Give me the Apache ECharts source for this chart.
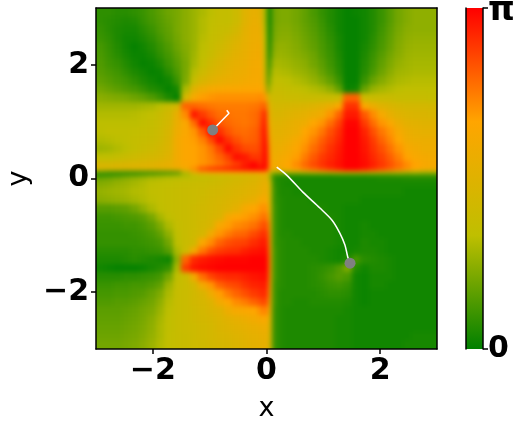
<!DOCTYPE html>
<html>
<head>
<meta charset="utf-8">
<style>
html,body{margin:0;padding:0;background:#fff}
#page{position:relative;width:520px;height:423px;overflow:hidden}
#clip{position:absolute;left:96px;top:8px;width:341px;height:341px;overflow:hidden}
#map{position:absolute;left:-96px;top:-8px;width:520px;height:423px;filter:blur(2.5px)}
#main{position:absolute;left:0;top:0;width:520px;height:423px}
</style>
<script src="https://cdn.jsdelivr.net/npm/echarts@6/dist/echarts.min.js"></script>
</head>
<body>
<div id="page">
<div id="clip"><div id="map"></div></div>
<div id="main"></div>
</div>
<script>
// cell edges, finer around the axes where the map has thin bands
const xEdges = [-3,-2.85,-2.7,-2.55,-2.4,-2.25,-2.1,-1.95,-1.8,-1.65,-1.5,-1.35,-1.2,-1.05,-0.9,-0.75,-0.6,-0.45,-0.3,-0.15,-0.07,0,0.05,0.1,0.2,0.3,0.45,0.6,0.75,0.9,1.05,1.2,1.35,1.5,1.65,1.8,1.95,2.1,2.25,2.4,2.55,2.7,2.85,3];
const yEdges = [3,2.85,2.7,2.55,2.4,2.25,2.1,1.95,1.8,1.65,1.5,1.35,1.2,1.05,0.9,0.75,0.6,0.45,0.3,0.2,0.13,0.08,0.03,-0.05,-0.15,-0.3,-0.45,-0.6,-0.75,-0.9,-1.05,-1.2,-1.35,-1.5,-1.65,-1.8,-1.95,-2.1,-2.25,-2.4,-2.55,-2.7,-2.85,-3];

// values in percent of pi, read by eye, one line per row from the top
const westCells = [
[8,8,7,7,8,10,13,16,19,21,24,27,30,33,36,36,40,50,54,52,30],
[8,7,6,5,6,9,12,15,18,21,24,27,31,34,36,36,40,50,55,54,30],
[9,7,5,4,4,7,10,14,17,21,24,27,31,35,37,38,43,52,56,56,32],
[10,8,5,3,3,5,8,12,16,20,24,27,32,36,38,42,47,53,57,58,34],
[12,9,6,3,1,3,6,10,14,19,23,27,33,37,41,45,50,54,58,60,36],
[13,10,7,4,2,2,4,8,12,17,22,28,34,38,44,48,52,55,59,61,38],
[14,11,9,6,3,1,2,5,10,15,21,29,36,42,47,51,54,56,60,62,40],
[15,13,11,8,5,3,1,2,7,13,21,32,40,46,50,53,56,58,61,63,42],
[17,15,13,11,8,5,3,1,3,10,22,37,46,51,54,56,58,60,62,63,45],
[20,18,16,14,12,9,6,4,1,4,30,50,58,62,63,64,64,65,65,66,55],
[24,23,22,21,19,17,14,10,5,1,45,62,68,70,71,71,71,71,71,72,70],
[28,28,28,28,28,29,30,33,38,45,80,80,78,76,75,75,75,75,76,78,82],
[31,31,31,31,32,33,35,38,42,55,72,95,88,82,78,77,76,76,78,82,95],
[33,33,33,33,33,34,36,39,44,56,64,78,97,90,82,79,77,76,78,84,98],
[33,34,34,34,35,36,37,40,46,58,64,70,82,99,90,83,79,78,80,86,99],
[31,32,33,34,36,37,38,41,47,60,65,68,74,85,98,90,84,80,81,86,100],
[28,29,31,33,36,38,40,43,48,60,65,67,70,76,86,98,90,85,84,87,100],
[34,34,36,38,40,42,44,46,50,60,65,67,70,74,80,87,97,95,89,89,100],
[45,45,46,47,48,49,50,52,54,60,64,67,70,73,77,82,87,94,99,92,100],
[48,48,49,49,50,50,51,52,54,58,62,72,85,90,92,94,96,98,100,100,100],
[12,9,8,7,7,8,8,9,10,12,30,52,60,62,62,62,62,60,60,62,65],
[8,10,12,15,17,19,22,24,26,28,30,33,36,38,40,42,44,46,48,50,52],
[20,21,23,25,27,29,31,32,33,34,35,36,37,38,40,41,43,45,47,50,53],
[23,24,26,27,29,31,33,34,35,36,37,38,39,40,41,43,45,47,49,52,55],
[26,27,28,29,31,32,34,35,36,37,38,39,40,42,43,45,47,49,51,54,58],
[24,25,26,27,29,31,33,35,36,37,38,39,41,43,45,47,49,52,55,62,64],
[15,15,16,17,20,25,30,34,36,37,38,40,42,44,46,49,53,62,66,70,72],
[11,11,12,13,14,16,21,29,34,37,38,40,42,45,48,62,66,68,71,75,78],
[10,10,10,11,11,13,16,22,30,36,38,40,43,47,63,68,72,74,77,82,85],
[9,9,9,9,10,11,13,17,25,34,38,41,45,60,70,75,79,80,85,89,91],
[9,9,9,9,9,10,11,13,20,33,38,42,64,72,80,84,86,87,91,94,95],
[7,7,7,7,8,8,9,10,15,30,40,60,76,84,88,90,91,94,96,97,98],
[5,5,5,6,7,6,5,4,3,25,80,92,95,97,98,99,99,99,100,100,100],
[3,2,1,1,1,2,4,6,9,30,88,96,98,99,100,100,100,100,100,100,100],
[7,7,7,8,8,9,10,12,20,34,40,60,78,86,90,92,92,94,96,97,98],
[10,10,11,11,12,12,14,17,27,36,39,44,60,70,80,84,86,90,93,94,95],
[12,12,13,13,14,15,18,22,30,37,39,42,47,58,68,75,80,84,88,91,92],
[14,14,15,15,16,18,20,25,32,37,39,42,45,49,60,66,72,75,80,84,86],
[16,16,16,17,18,20,22,27,33,37,39,41,44,47,50,58,62,64,66,72,74],
[17,17,17,18,19,21,24,29,34,37,39,41,43,45,48,51,54,57,60,63,64],
[18,18,18,19,20,22,25,30,34,37,39,40,42,44,47,49,51,53,55,57,58],
[19,19,19,20,21,23,26,30,35,37,38,40,42,44,46,47,49,51,53,54,55],
[20,20,20,21,22,24,27,31,35,37,38,40,41,43,45,46,48,50,52,53,54]
];
const eastCells = [
[3,4,20,22,22,20,17,13,9,6,3,1,2,3,6,10,15,20,23,25,25,25],
[3,4,20,22,22,20,17,14,10,6,3,1,1,3,6,10,15,20,23,25,25,25],
[3,5,21,23,23,21,18,15,11,7,3,1,1,3,6,11,16,21,24,25,25,25],
[3,6,22,24,24,22,19,16,12,8,4,1,1,3,7,12,17,22,25,26,26,26],
[3,8,24,26,25,23,20,17,13,9,4,1,1,4,8,13,18,23,26,27,27,27],
[3,11,26,27,26,24,22,19,14,10,5,1,1,5,10,15,20,24,27,28,28,28],
[4,16,29,29,28,26,24,20,16,11,6,1,1,6,11,17,22,26,28,29,29,29],
[5,22,32,31,30,28,26,23,18,13,7,1,1,7,13,19,24,28,29,30,30,30],
[7,28,34,34,33,31,29,26,22,17,10,1,1,10,18,23,27,30,31,32,32,32],
[15,34,37,37,36,35,33,31,29,25,17,2,3,18,26,29,31,33,34,34,34,34],
[40,42,40,40,39,39,38,38,38,38,40,80,80,40,38,38,38,37,37,37,37,36],
[55,48,44,44,45,46,47,49,52,56,64,90,90,64,56,50,47,45,44,44,44,43],
[60,50,47,47,49,51,53,56,60,70,80,95,95,82,72,62,54,50,48,47,47,46],
[66,52,50,50,52,55,58,66,70,78,87,99,99,88,78,70,64,56,52,51,50,50],
[72,54,52,52,54,57,66,70,76,84,91,100,100,93,84,76,70,62,56,54,53,53],
[78,56,54,54,57,62,68,74,81,87,93,100,100,95,88,80,73,66,59,57,56,56],
[85,58,56,57,60,65,71,78,84,90,95,100,100,96,90,84,77,70,63,60,58,58],
[88,60,58,60,63,68,75,82,88,92,96,100,100,97,92,87,81,74,67,63,61,60],
[90,62,60,62,66,72,79,85,90,94,97,100,100,98,94,89,84,78,72,67,63,62],
[85,60,58,60,64,69,75,80,85,90,95,100,100,96,91,86,81,76,71,66,62,60],
[50,40,28,28,30,30,32,34,36,38,40,40,40,38,36,34,32,32,30,30,28,28],
[48,25,8,6,5,5,5,5,5,5,6,6,6,6,7,7,8,9,9,10,10,10],
[52,30,7,5,5,4,4,4,4,4,4,4,4,4,4,5,5,5,6,6,6,6],
[56,40,8,5,4,4,4,4,4,4,4,4,4,4,4,4,4,4,4,4,4,4],
[58,42,9,5,5,4,4,4,4,4,4,4,4,4,4,4,4,4,3,3,3,3],
[60,44,9,6,5,5,5,4,4,4,4,4,4,3,3,3,3,3,3,3,3,3],
[66,46,10,6,5,5,5,5,5,4,4,3,3,3,3,3,3,3,3,3,3,3],
[72,48,10,6,5,5,5,5,5,5,4,3,3,3,3,3,3,3,3,3,3,3],
[82,50,10,6,5,5,5,5,5,5,4,3,3,4,3,3,3,3,3,3,3,3],
[88,52,10,6,6,5,5,5,5,5,4,3,3,4,4,3,3,3,3,3,3,3],
[92,53,10,7,6,6,5,5,5,5,4,3,3,5,4,4,3,3,3,3,3,3],
[95,55,11,7,6,6,6,5,5,4,3,3,4,5,5,4,3,3,3,3,3,3],
[98,56,11,7,6,6,6,6,5,4,3,6,12,7,6,5,4,3,3,3,3,3],
[98,56,11,7,6,6,6,7,8,10,14,22,6,3,5,5,4,3,3,3,3,3],
[95,55,11,7,6,6,6,7,9,12,15,13,3,2,4,4,4,3,3,3,3,3],
[90,53,10,7,6,6,6,7,8,10,11,9,3,2,4,4,3,3,3,3,3,3],
[86,52,10,6,6,6,6,6,7,8,8,7,3,2,3,3,3,3,3,3,3,3],
[80,50,10,6,6,5,5,6,6,6,6,5,3,2,3,3,3,3,3,3,3,3],
[72,50,9,6,5,5,5,5,5,5,5,4,3,3,3,3,3,3,3,3,3,3],
[62,48,9,6,5,5,5,5,5,5,4,4,3,3,3,3,3,3,3,3,3,3],
[58,46,9,6,5,5,5,5,5,5,4,4,3,3,3,3,3,3,3,3,3,3],
[55,45,9,6,5,5,5,5,5,5,4,4,3,3,3,3,3,3,3,4,4,4],
[54,44,9,6,5,5,5,5,5,5,4,4,3,3,3,3,3,3,4,4,4,4]
];

const pathLong = [[0.18,0.2],[0.355,0.06],[0.64,-0.24],[0.94,-0.52],[1.15,-0.73],[1.29,-0.96],[1.38,-1.17],[1.43,-1.38],[1.47,-1.49]];
const pathShort = [[-0.70,1.2],[-0.66,1.147],[-0.947,0.854]];
const endPoints = [[1.47,-1.49],[-0.947,0.854]];
const axisTicks = [-2,0,2];
const barTicks = [0,100];
const colours = ['#008000','#bfbf00','#ffa500','#ff0000'];

const font = 'DejaVu Sans';
const gridBox = {left:96,top:8,width:341,height:341,outerBoundsMode:'none'};

const cells = [];
yEdges.slice(0,-1).forEach(function(yTop,r){
  const row = westCells[r].concat(eastCells[r]);
  row.forEach(function(v,c){
    cells.push([xEdges[c],xEdges[c+1],yEdges[r+1],yTop,v]);
  });
});

// outer cells run past the frame so the blur has no pale rim
function drawCell(params,api){
  const a = api.coord([api.value(0),api.value(3)]);
  const b = api.coord([api.value(1),api.value(2)]);
  let x0 = Math.round(a[0]), y0 = Math.round(a[1]), x1 = Math.round(b[0]), y1 = Math.round(b[1]);
  if(api.value(0)===-3) x0 -= 12;
  if(api.value(1)===3) x1 += 12;
  if(api.value(3)===3) y0 -= 8;
  if(api.value(2)===-3) y1 += 12;
  return {
    type:'rect',
    shape:{x:x0,y:y0,width:x1-x0,height:y1-y0},
    style:{fill:api.visual('color')}
  };
}

function drawBar(params,api){
  const a = api.coord([0,100]);
  const b = api.coord([1,0]);
  return {
    type:'rect',
    shape:{x:a[0],y:a[1],width:b[0]-a[0],height:b[1]-a[1]},
    style:{fill:new echarts.graphic.LinearGradient(0,1,0,0,colours.map(function(c,i){
      return {offset:i/(colours.length-1),color:c};
    }))}
  };
}

function frameAxis(pos,extra){
  return Object.assign({
    type:'value',position:pos,min:-3,max:3,z:5,
    axisLine:{show:true,onZero:false,lineStyle:{color:'#000',width:1.5}},
    axisTick:{show:false},axisLabel:{show:false},splitLine:{show:false}
  },extra);
}

const labelStyle = {show:true,customValues:axisTicks,color:'#000',fontFamily:font,fontWeight:'bold',fontSize:30,
  formatter:function(v){return v<0?'\u2212'+Math.abs(v):String(v);}};
const tickStyle = {show:true,customValues:axisTicks,length:5,lineStyle:{color:'#000',width:1.5}};
const nameStyle = {color:'#000',fontFamily:font,fontSize:27};

const mapChart = echarts.init(document.getElementById('map'),null,{renderer:'canvas'});
mapChart.setOption({
  animation:false,
  grid:gridBox,
  xAxis:{type:'value',min:-3,max:3,show:false},
  yAxis:{type:'value',min:-3,max:3,show:false},
  visualMap:{type:'continuous',show:false,seriesIndex:0,dimension:4,min:0,max:100,inRange:{color:colours}},
  series:[{type:'custom',renderItem:drawCell,data:cells,encode:{x:[0,1],y:[2,3]},clip:false,silent:true,progressive:0}]
});

const chart = echarts.init(document.getElementById('main'),null,{renderer:'canvas'});
chart.setOption({
  animation:false,
  grid:[
    gridBox,
    {left:466,top:8,width:17,height:341,outerBoundsMode:'none'}
  ],
  xAxis:[
    frameAxis('bottom',{axisTick:tickStyle,axisLabel:Object.assign({margin:7},labelStyle),name:'x',nameLocation:'middle',nameGap:46,nameTextStyle:nameStyle}),
    frameAxis('top'),
    {type:'value',gridIndex:1,show:false,min:0,max:1}
  ],
  yAxis:[
    frameAxis('left',{axisTick:tickStyle,axisLabel:Object.assign({margin:7},labelStyle),name:'y',nameLocation:'middle',nameGap:64,nameTextStyle:nameStyle}),
    frameAxis('right'),
    {type:'value',gridIndex:1,position:'right',min:0,max:100,z:5,
      axisLine:{show:true,onZero:false,lineStyle:{color:'#000',width:1.5}},
      axisTick:{show:true,customValues:barTicks,length:5,lineStyle:{color:'#000',width:1.5}},
      axisLabel:{show:true,customValues:barTicks,margin:5,color:'#000',fontFamily:font,fontWeight:'bold',fontSize:30,
        formatter:function(v){return v===100?'{p|\u03c0}':'0';},
        rich:{p:{fontFamily:font,fontWeight:'bold',fontSize:34,padding:[6,0,0,0]}}},
      splitLine:{show:false}},
    {type:'value',gridIndex:1,position:'left',min:0,max:100,z:5,
      axisLine:{show:true,onZero:false,lineStyle:{color:'#000',width:1.5}},
      axisTick:{show:false},axisLabel:{show:false},splitLine:{show:false}}
  ],
  series:[
    {type:'custom',renderItem:drawBar,data:[[0,1,0,100]],xAxisIndex:2,yAxisIndex:2,encode:{x:[0,1],y:[2,3]},silent:true},
    {type:'line',data:pathLong,showSymbol:false,smooth:0.3,lineStyle:{color:'#fff',width:1.5},z:6,silent:true},
    {type:'line',data:pathShort,showSymbol:false,lineStyle:{color:'#fff',width:1.5},z:6,silent:true},
    {type:'scatter',data:endPoints,symbolSize:11,itemStyle:{color:'#808080',opacity:1},z:7,silent:true}
  ]
});
</script>
</body>
</html>
